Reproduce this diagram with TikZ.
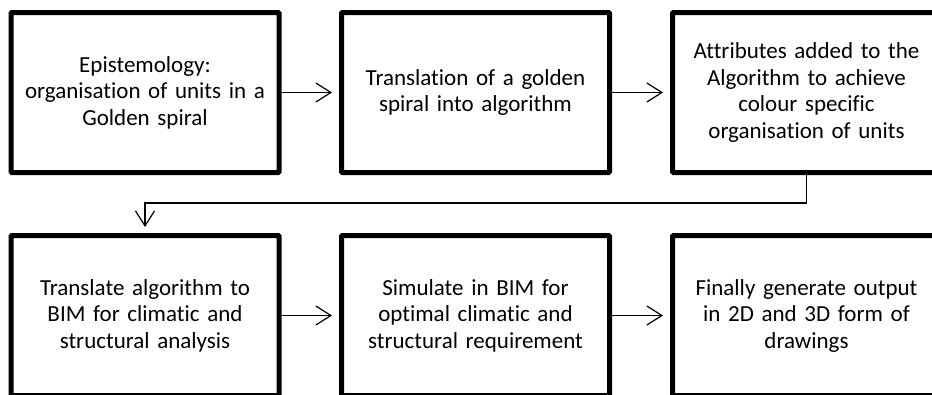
\documentclass[tikz,border=0pt]{standalone}
\usepackage{fontspec}
\setmainfont{Carlito}[Ligatures=NoCommon]
\usetikzlibrary{arrows.meta}
\begin{document}
\begin{tikzpicture}[x=1pt,y=1pt,
  stage/.style={draw=black, line width=5pt, rounded corners=1pt,
    minimum width=268pt, minimum height=160pt, inner sep=0pt,
    text width=262pt, align=center,
    font=\fontsize{23}{26.5}\selectfont},
  flow/.style={line width=1.2pt, shorten >=7pt,
    -{Straight Barb[length=15pt, width=19pt, line width=1.2pt]}}]
  \clip (0,0) rectangle (932,-394);
  \useasboundingbox (0,0) rectangle (932,-394);

  % top row
  \node[stage] (a) at (145,-92.5) {Epistemology:\\organisation of units in a\\Golden spiral};
  \node[stage] (b) at (475.5,-92.5) {Translation of a golden\\spiral into algorithm};
  \node[stage] (c) at (806.5,-92.5) {Attributes added to the\\Algorithm to achieve\\colour specific\\organisation of units};

  % bottom row
  \node[stage] (d) at (145,-315.5) {Translate algorithm to\\BIM for climatic and\\structural analysis};
  \node[stage] (e) at (475.5,-315.5) {Simulate in BIM for\\optimal climatic and\\structural requirement};
  \node[stage] (f) at (806.5,-315.5) {Finally generate output\\in 2D and 3D form of\\drawings};

  % connectors
  \draw[flow] (a) -- (b);
  \draw[flow] (b) -- (c);
  \draw[flow] (d) -- (e);
  \draw[flow] (e) -- (f);
  \coordinate (turnR) at (806.5,-203);
  \coordinate (turnL) at (145,-203);
  \draw[flow, shorten >=6pt] (c.south) -- (turnR) -- (turnL) -- (d.north);
\end{tikzpicture}
\end{document}
